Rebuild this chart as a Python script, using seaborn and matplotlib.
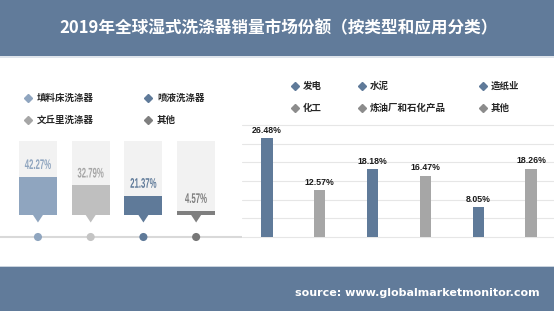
import matplotlib
matplotlib.use("Agg")
import matplotlib.pyplot as plt
import seaborn as sns
import pandas as pd
from matplotlib.patches import Rectangle, Polygon
from matplotlib.patheffects import AbstractPathEffect
from matplotlib.transforms import Affine2D

sns.set_theme(style="white")
plt.rcParams['font.family'] = ['Noto Sans CJK SC', 'DejaVu Sans']

# ---------------- data ----------------
title = "2019年全球湿式洗涤器销量市场份额（按类型和应用分类）"
source = "source: www.globalmarketmonitor.com"

type_names = ["填料床洗涤器", "文丘里洗涤器", "喷液洗涤器", "其他"]
type_values = [42.27, 32.79, 21.37, 4.57]
type_colors = ["#8fa5bf", "#bfbfbf", "#5f7a99", "#7f7f7f"]
type_label_colors = ["#8fa5bf", "#a6a6a6", "#5f7a99", "#7f7f7f"]
type_dot_colors = ["#8fa5bf", "#c4c4c4", "#5f7a99", "#777777"]
type_legend_colors = ["#8fa5bf", "#a6a6a6", "#5f7a99", "#7f7f7f"]
type_box_max = 82

app_names = ["发电", "化工", "水泥", "炼油厂和石化产品", "造纸业", "其他"]
app_values = [26.48, 12.57, 18.18, 16.47, 8.05, 18.26]
app_colors = ["#5f7a99", "#a6a6a6", "#5f7a99", "#a6a6a6", "#5f7a99", "#a6a6a6"]
app_legend_colors = ["#5f7a99", "#8c8c8c", "#5f7a99", "#8c8c8c", "#5f7a99", "#8c8c8c"]

W, H = 554, 311
BANNER = "#617b9a"


class HSqueeze(AbstractPathEffect):
    """Compress text glyphs horizontally about their centre (condensed look)."""

    def __init__(self, sx):
        super().__init__()
        self.sx = sx

    def draw_path(self, renderer, gc, tpath, affine, rgbFace=None):
        ext = tpath.get_extents(affine)
        cx = (ext.x0 + ext.x1) / 2
        aff = affine + Affine2D().translate(-cx, 0).scale(self.sx, 1).translate(cx, 0)
        renderer.draw_path(gc, tpath, aff, rgbFace)


fig = plt.figure(figsize=(W / 100, H / 100), dpi=100)
fig.patch.set_facecolor("white")

# background / decoration axes in pixel coordinates
bg = fig.add_axes([0, 0, 1, 1], zorder=0)
bg.set_xlim(0, W)
bg.set_ylim(H, 0)
bg.axis("off")
bg.add_patch(Rectangle((0, 0), W, 56, color=BANNER, lw=0))
bg.add_patch(Rectangle((0, 56), W, 2, color="#dfe5ec", lw=0))
bg.add_patch(Rectangle((0, 267), W, 44, color=BANNER, lw=0))
bg.add_patch(Rectangle((0, 265.5), W, 1.5, color="#c9d3de", lw=0))
bg.text(W / 2 + 2, 28, title, color="white", fontsize=12, fontweight="bold",
        ha="center", va="center")
bg.text(540, 293, source, color="white", fontsize=8, fontweight="bold",
        ha="right", va="center", family=["DejaVu Sans"])

# left legend (column-major order)
lx = [28, 28, 148, 148]
ly = [98, 120, 98, 120]
for name, c, x, y in zip(type_names, type_legend_colors, lx, ly):
    bg.plot([x], [y], marker="D", markersize=3.6, color=c, lw=0)
    bg.text(x + 9, y, name, fontsize=6.8, fontweight="bold", ha="left", va="center", color="#262626")

# right legend (column-major order)
rx = [295, 295, 362, 362, 483, 483]
ry = [86, 108, 86, 108, 86, 108]
for name, c, x, y in zip(app_names, app_legend_colors, rx, ry):
    bg.plot([x], [y], marker="D", markersize=3.6, color=c, lw=0)
    bg.text(x + 8, y, name, fontsize=6.8, fontweight="bold", ha="left", va="center", color="#262626")

# ---------------- left panel: type ----------------
df_t = pd.DataFrame({"type": type_names, "value": type_values})
df_t["full"] = type_box_max
axL = fig.add_axes([0, 1 - 245 / H, 242 / W, 115 / H], zorder=1)
axL.patch.set_alpha(0)
sns.barplot(data=df_t, x="type", y="full", color="#f2f2f2", width=0.72,
            saturation=1, linewidth=0, ax=axL)
sns.barplot(data=df_t, x="type", y="value", hue="type", palette=type_colors,
            width=0.72, saturation=1, linewidth=0, legend=False, ax=axL)
px_per_unit = 0.9
axL.set_xlim(-0.72, 3.87)
axL.set_ylim(-30 / px_per_unit, 85 / px_per_unit)
line_y = -22 / px_per_unit
axL.axhline(line_y, color="#d9d9d9", lw=1.5, zorder=1)
for i, (v, c, lc) in enumerate(zip(type_values, type_colors, type_label_colors)):
    axL.add_patch(Polygon([(i - 0.1, 0.5), (i + 0.1, 0.5), (i, -7.5 / px_per_unit)],
                          closed=True, color=c, lw=0))
    axL.text(i, v + 12 / px_per_unit, f"{v:.2f}%", ha="center", va="center",
             color=lc, fontsize=10, fontweight="bold",
             family=["Liberation Sans"], path_effects=[HSqueeze(0.56)])
axL.scatter(range(len(type_values)), [line_y] * len(type_values), s=34,
            c=type_dot_colors, zorder=3, linewidths=0)
axL.axis("off")

# ---------------- right panel: application ----------------
df_a = pd.DataFrame({"app": app_names, "value": app_values})
axR = fig.add_axes([242 / W, 1 - 237 / H, 1 - 242 / W, 112 / H], zorder=1)
axR.patch.set_alpha(0)
sns.barplot(data=df_a, x="app", y="value", hue="app", palette=app_colors,
            width=0.21, saturation=1, linewidth=0, legend=False, ax=axR)
axR.set_xlim(-0.473, 5.435)
axR.set_ylim(0, 30)
axR.set_yticks(range(0, 31, 5))
axR.yaxis.grid(True, color="#e6e6e6", lw=0.8)
for gl in axR.get_ygridlines():
    gl.set_clip_on(False)
axR.set_axisbelow(True)
axR.tick_params(left=False, bottom=False, labelleft=False, labelbottom=False)
axR.set_xlabel("")
axR.set_ylabel("")
for s in axR.spines.values():
    s.set_visible(False)
for i, v in enumerate(app_values):
    axR.text(i, v + 2.1, f"{v:.2f}%", ha="center", va="center", fontsize=6.3,
             fontweight="bold", color="#1a1a1a", family=["Liberation Sans"])

fig.savefig("out.png", dpi=100)
